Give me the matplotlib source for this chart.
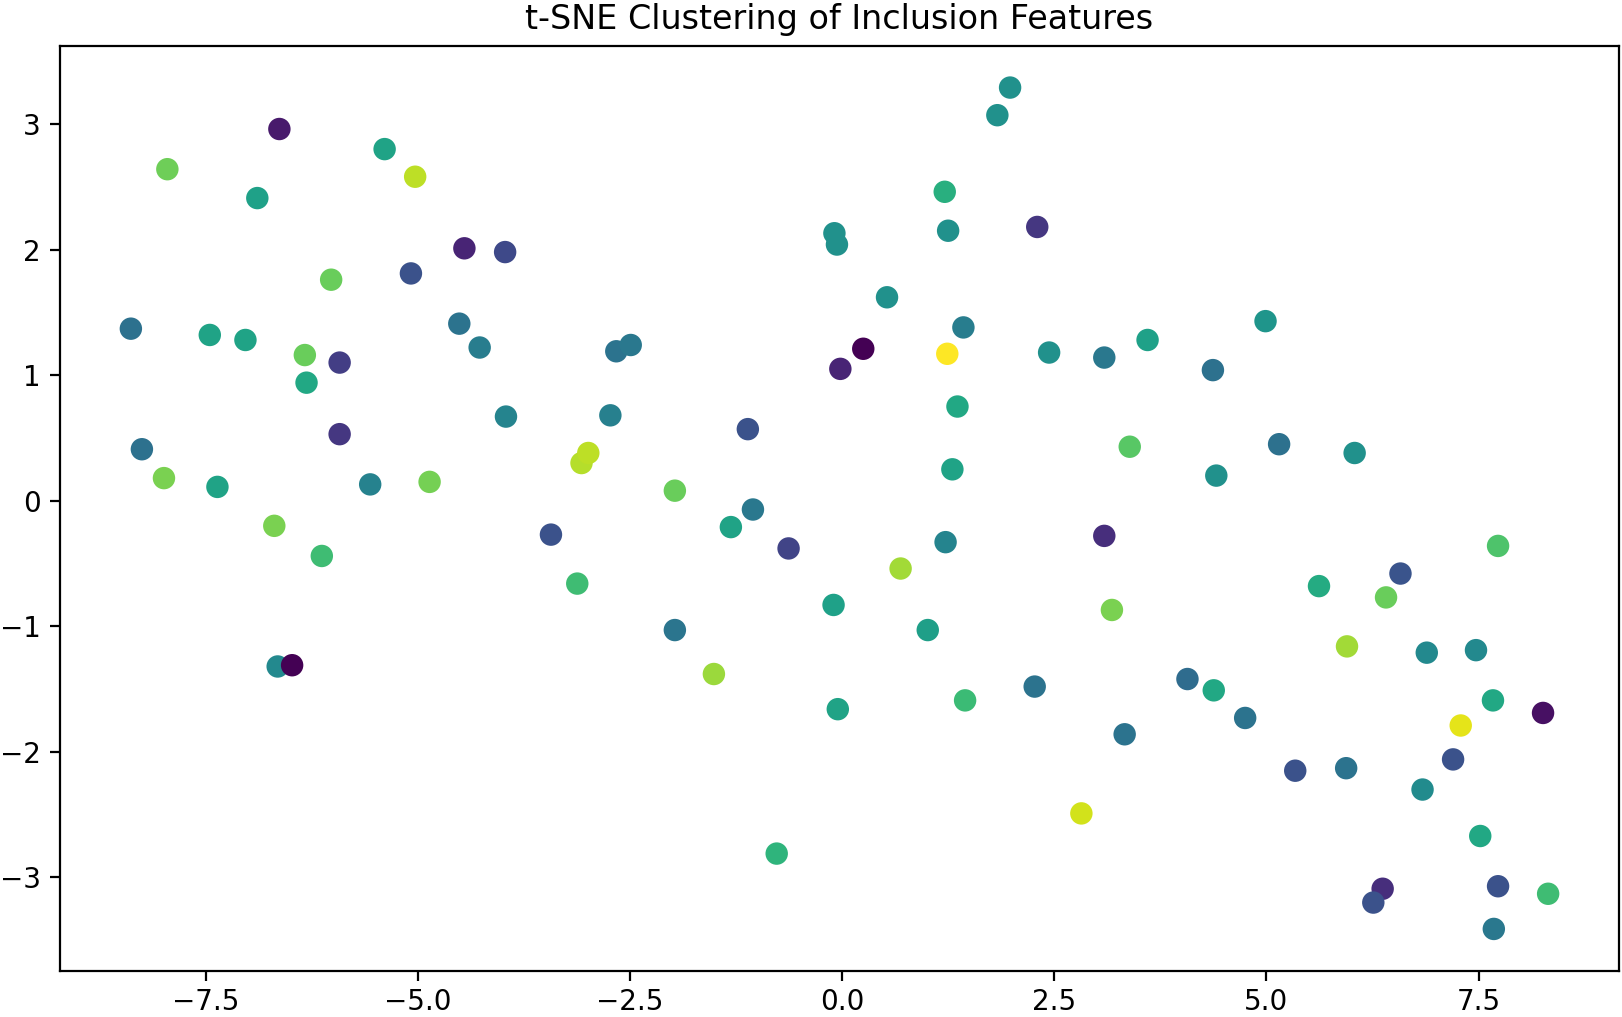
import matplotlib
matplotlib.use("Agg")
import matplotlib.pyplot as plt
import numpy as np

x_vals = [-6.63, -7.95, -5.39, -5.03, -6.89, -4.45, -3.97, -5.08, -6.02, -8.38,
          -7.45, -7.03, -4.51, -4.27, -6.33, -5.92, -6.31, -3.96, -5.92, -8.25,
          -7.99, -7.36, -5.56, -4.86, -6.69, -6.13, -6.65, -6.48, -3.43, -3.12,
          -2.66, -2.49, -2.73, -3.07, -2.99, -1.97, -1.11, -1.05, -1.31, -0.63,
          -1.97, -1.51, -0.77, -0.10, -0.05, 0.69, 1.01, 1.22, 1.30, 1.36,
          1.45, 2.27, 2.82, -0.09, -0.06, 0.53, 0.25, -0.02, 1.21, 1.25,
          2.30, 1.83, 1.98, 1.43, 1.24, 2.44, 3.09, 3.60, 4.99, 4.37,
          3.39, 5.15, 6.04, 4.41, 3.09, 3.18, 3.33, 4.07, 4.38, 4.75,
          5.62, 6.58, 6.41, 7.73, 5.95, 6.89, 7.47, 7.67, 8.26, 7.29,
          7.20, 5.34, 5.94, 6.84, 7.52, 6.37, 6.26, 7.73, 8.32, 7.68]

y_vals = [2.96, 2.64, 2.80, 2.58, 2.41, 2.01, 1.98, 1.81, 1.76, 1.37,
          1.32, 1.28, 1.41, 1.22, 1.16, 1.10, 0.94, 0.67, 0.53, 0.41,
          0.18, 0.11, 0.13, 0.15, -0.20, -0.44, -1.32, -1.31, -0.27, -0.66,
          1.19, 1.24, 0.68, 0.30, 0.38, 0.08, 0.57, -0.07, -0.21, -0.38,
          -1.03, -1.38, -2.81, -0.83, -1.66, -0.54, -1.03, -0.33, 0.25, 0.75,
          -1.59, -1.48, -2.49, 2.13, 2.04, 1.62, 1.21, 1.05, 2.46, 2.15,
          2.18, 3.07, 3.29, 1.38, 1.17, 1.18, 1.14, 1.28, 1.43, 1.04,
          0.43, 0.45, 0.38, 0.20, -0.28, -0.87, -1.86, -1.42, -1.51, -1.73,
          -0.68, -0.58, -0.77, -0.36, -1.16, -1.21, -1.19, -1.59, -1.69, -1.79,
          -2.06, -2.15, -2.13, -2.30, -2.67, -3.09, -3.20, -3.07, -3.13, -3.41]

color_vals = [0.07, 0.78, 0.58, 0.90, 0.57, 0.10, 0.22, 0.25, 0.77, 0.37,
              0.58, 0.58, 0.38, 0.42, 0.77, 0.18, 0.60, 0.45, 0.16, 0.37,
              0.80, 0.58, 0.44, 0.79, 0.80, 0.69, 0.47, 0.00, 0.25, 0.69,
              0.38, 0.40, 0.43, 0.89, 0.90, 0.77, 0.25, 0.40, 0.58, 0.20,
              0.39, 0.85, 0.65, 0.57, 0.58, 0.86, 0.56, 0.45, 0.58, 0.60,
              0.68, 0.38, 0.93, 0.50, 0.50, 0.50, 0.00, 0.10, 0.63, 0.50,
              0.16, 0.50, 0.50, 0.42, 1.00, 0.50, 0.40, 0.57, 0.52, 0.37,
              0.74, 0.37, 0.50, 0.50, 0.13, 0.80, 0.38, 0.35, 0.60, 0.38,
              0.61, 0.26, 0.77, 0.72, 0.86, 0.47, 0.47, 0.60, 0.04, 0.96,
              0.25, 0.25, 0.38, 0.48, 0.60, 0.13, 0.25, 0.25, 0.69, 0.40]

W, H, DPI = 1622, 1017, 200
fig = plt.figure(figsize=(W / DPI, H / DPI), dpi=DPI)
ax = fig.add_axes([60 / W, 46 / H, 1559 / W, 925.5 / H])
ax.scatter(x_vals, y_vals, c=color_vals, cmap="viridis", s=50)
ax.tick_params(axis="x", pad=2.5)
ax.set_title("t-SNE Clustering of Inclusion Features", fontsize=12)
fig.savefig("out.png", dpi=DPI)
